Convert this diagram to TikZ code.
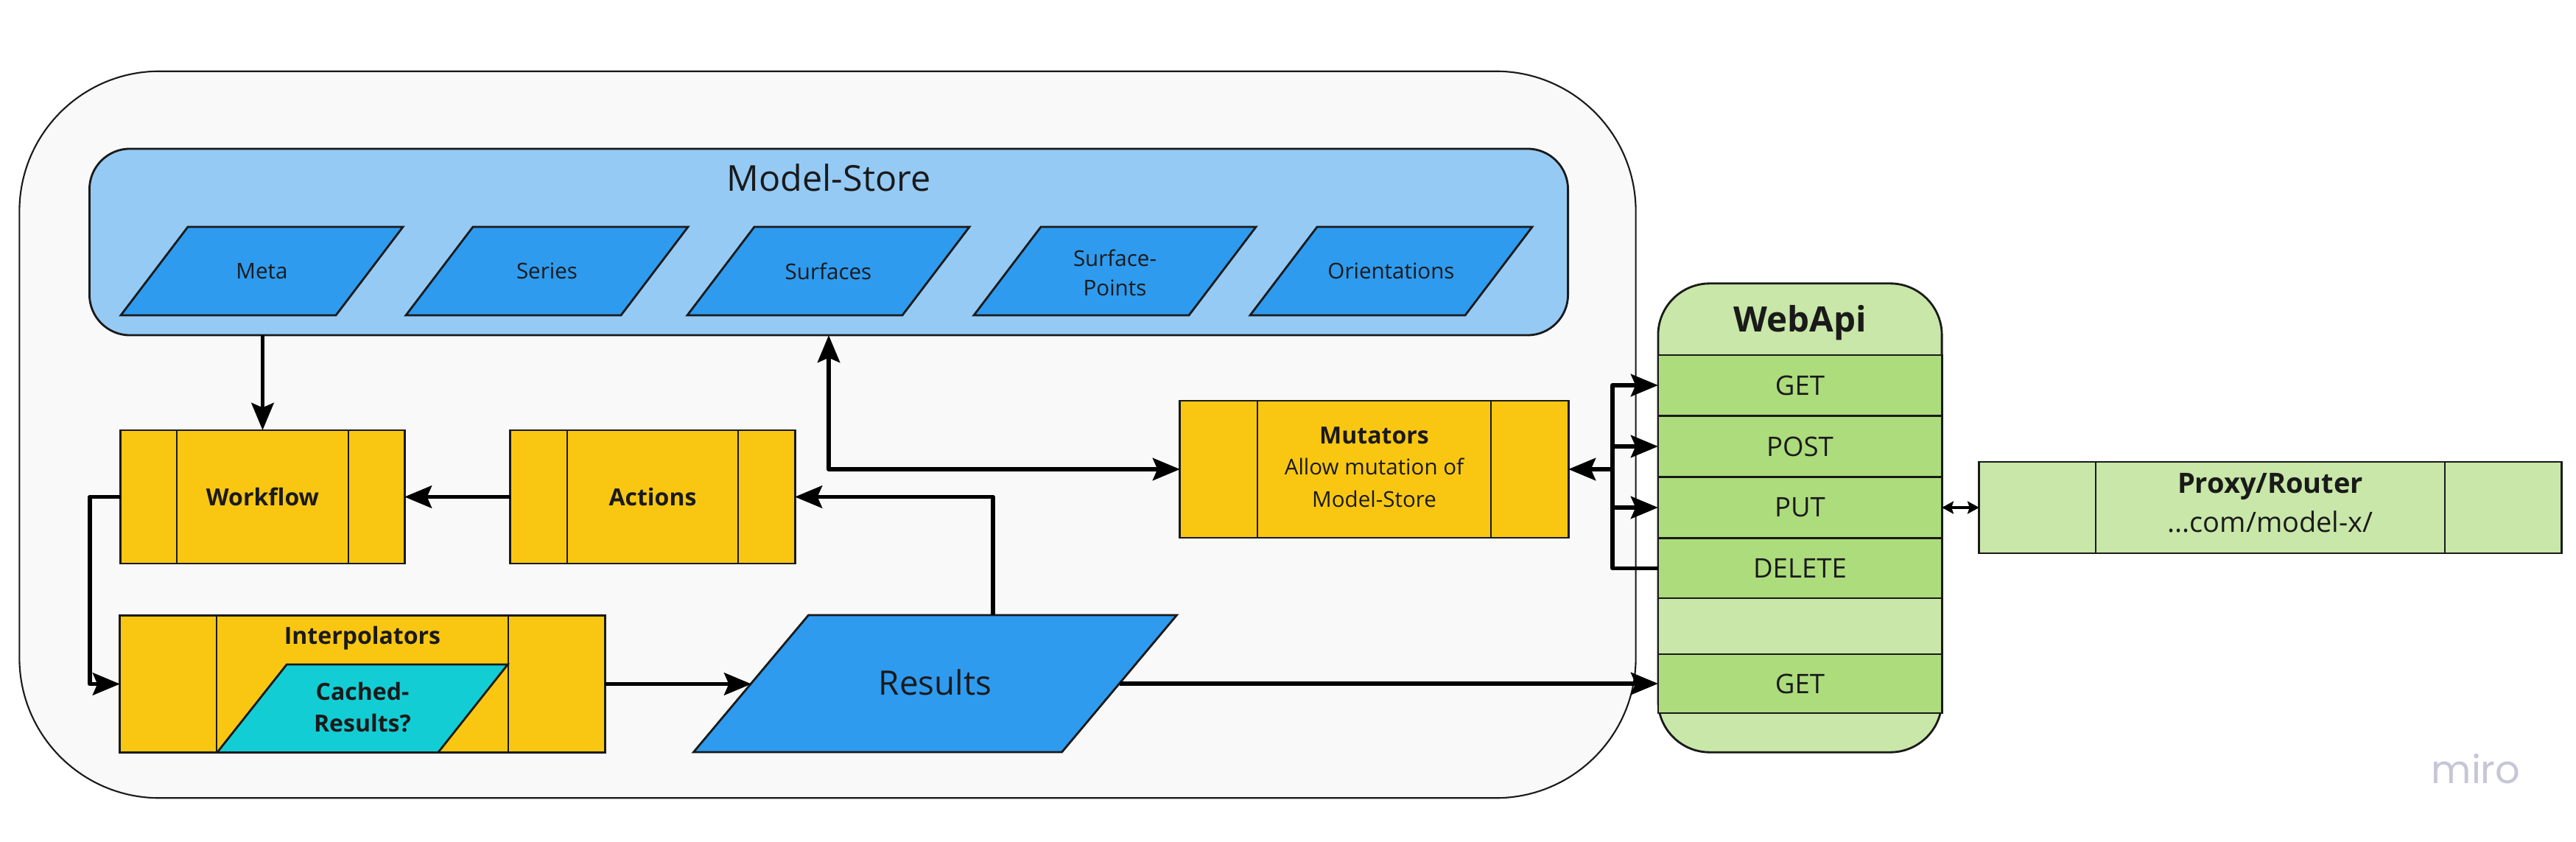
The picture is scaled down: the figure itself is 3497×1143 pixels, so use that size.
\documentclass[tikz,border=0pt]{standalone}
\usepackage{fontspec}
\setmainfont{Open Sans}
\newfontfamily\mirofont{Poppins}
\usetikzlibrary{arrows.meta,calc}
\definecolor{bgc}{HTML}{F9F9F9}
\definecolor{storebg}{HTML}{95CAF4}
\definecolor{pblue}{HTML}{2E9BEF}
\definecolor{pyellow}{HTML}{F9C712}
\definecolor{pcyan}{HTML}{13CDD4}
\definecolor{glight}{HTML}{C8E7A8}
\definecolor{gdark}{HTML}{ADDC7C}
\definecolor{edgec}{HTML}{1A1A1A}
\definecolor{mirogray}{HTML}{C6C6D6}
\newcommand\pgram[6][]{\draw[#1] ({#2-(#4+#6)/2},{#3+#5/2}) -- ({#2+(#4-#6)/2},{#3+#5/2}) -- ({#2+(#4+#6)/2},{#3-#5/2}) -- ({#2-(#4-#6)/2},{#3-#5/2}) -- cycle;}
\begin{document}
\begin{tikzpicture}[x=0.01cm,y=-0.01cm,
  every node/.style={text=edgec},
  box/.style={draw=edgec, line width=0.8pt, outer sep=0pt, inner sep=0pt},
  proc/.style={box, fill=pyellow, path picture={\draw[edgec, line width=0.7pt] ([xshift=#1]path picture bounding box.north west) -- ([xshift=#1]path picture bounding box.south west) ([xshift=-#1]path picture bounding box.north east) -- ([xshift=-#1]path picture bounding box.south east);}},
  pstyle/.style={draw=edgec, line width=0.8pt, fill=pblue, line join=miter},
  row/.style={box, fill=gdark, minimum width=3.85cm, fget},
  ftitle/.style={font=\fontsize{13.8pt}{16pt}\selectfont},
  fsmall/.style={font=\fontsize{8.4pt}{11.4pt}\selectfont},
  fbold/.style={font=\fontsize{9.1pt}{12.2pt}\selectfont\bfseries},
  fres/.style={font=\fontsize{13pt}{15pt}\selectfont},
  fweb/.style={font=\fontsize{13.5pt}{16pt}\selectfont\bfseries},
  fget/.style={font=\fontsize{10.4pt}{12pt}\selectfont},
  fproxyb/.style={font=\fontsize{10.8pt}{13pt}\selectfont\bfseries},
  fproxy/.style={font=\fontsize{10.8pt}{13pt}\selectfont},
  conn/.style={line width=1.6pt, line join=round, -{Stealth[length=10.5pt,width=8.6pt,inset=1.8pt]}},
  dconn/.style={line width=1.6pt, line join=round, {Stealth[length=10.5pt,width=8.6pt,inset=1.8pt]}-{Stealth[length=10.5pt,width=8.6pt,inset=1.8pt]}},
  sconn/.style={line width=1pt, {Stealth[length=4.5pt,width=4.8pt,inset=0.8pt]}-{Stealth[length=4.5pt,width=4.8pt,inset=0.8pt]}}
]
\fill[white] (0,0) rectangle (3497,1143);
\useasboundingbox (0,0) rectangle (3497,1143);

% container
\node[box, line width=0.6pt, fill=bgc, rounded corners=1.9cm, minimum width=21.93cm, minimum height=9.86cm] (outer) at (1123.5,590) {};

% Model-Store
\node[box, fill=storebg, rounded corners=0.55cm, minimum width=20.06cm, minimum height=2.53cm] (store) at (1125,328.5) {};
\node[ftitle, anchor=base] (storetitle) at (1125,260) {Model-Store};

\pgram[pstyle]{355.5}{368}{292}{120}{91}
\node[fsmall] (meta) at (355.5,368) {Meta};
\pgram[pstyle]{742.5}{368}{292}{120}{91}
\node[fsmall] (series) at (742.5,368) {Series};
\pgram[pstyle]{1124.5}{368}{292}{120}{91}
\node[fsmall] (surfaces) at (1124.5,368) {Surfaces};
\pgram[pstyle]{1513.5}{368}{292}{120}{91}
\node[fsmall, align=center] (spoints) at (1513.5,370) {Surface-\\Points};
\pgram[pstyle]{1888.5}{368}{292}{120}{91}
\node[fsmall] (orient) at (1888.5,368) {Orientations};

% process boxes
\node[proc=0.76cm, minimum width=3.85cm, minimum height=1.81cm, fbold] (wf) at (356.5,674.5) {Workflow};
\node[proc=0.77cm, minimum width=3.86cm, minimum height=1.81cm, fbold] (act) at (886,674.5) {Actions};

\node[proc=1.31cm, minimum width=6.58cm, minimum height=1.86cm] (interp) at (492,928.5) {};
\node[fbold, anchor=base] (interptitle) at (492,874) {Interpolators};
\pgram[draw=edgec, line width=0.8pt, fill=pcyan]{492}{961.75}{300}{119.5}{94.5}
\node[fbold, align=center] (cached) at (492,960) {Cached-\\Results?};

% Results
\pgram[pstyle]{1269.5}{928}{500}{186}{156}
\node[fres] (res) at (1269.5,926) {Results};
\coordinate (resL) at (1020,928.5);
\coordinate (resR) at (1520,928);
\coordinate (resT) at (1348,835);

% Mutators
\node[proc=1.05cm, minimum width=5.27cm, minimum height=1.86cm] (mut) at (1865.5,637) {};
\node[fbold, anchor=base] (muttitle) at (1865.5,602) {Mutators};
\node[fsmall, anchor=base] (mut1) at (1865.5,644) {Allow mutation of};
\node[fsmall, anchor=base] (mut2) at (1865.5,688) {Model-Store};

% WebApi
\node[box, fill=glight, rounded corners=0.7cm, minimum width=3.85cm, minimum height=6.36cm] (webapi) at (2443.5,703) {};
\node[fweb, anchor=base] (webtitle) at (2443.5,450) {WebApi};
\node[row, minimum height=0.82cm] (get) at (2443.5,523) {GET};
\node[row, minimum height=0.82cm] (post) at (2443.5,606) {POST};
\node[row, minimum height=0.82cm] (put) at (2443.5,689) {PUT};
\node[row, minimum height=0.81cm] (del) at (2443.5,771.5) {DELETE};
\node[row, fill=glight, minimum height=0.76cm] (gap) at (2443.5,850) {};
\node[row, minimum height=0.80cm] (get2) at (2443.5,928) {GET};

% Proxy
\node[proc=1.58cm, fill=glight, minimum width=7.9cm, minimum height=1.24cm] (proxy) at (3082,689) {};
\node[fproxyb, anchor=base] (proxyt) at (3082,669) {Proxy/Router};
\node[fproxy, anchor=base] (proxyu) at (3082,722) {...com/model-x/};

% miro
\node[font=\mirofont\fontsize{15pt}{17pt}\selectfont, text=mirogray, anchor=base] (miro) at (3361,1063) {miro};

% connectors
\draw[conn] (store.south -| wf.north) -- (wf.north);
\draw[conn] (act.west) -- (wf.east);
\draw[conn] (resT) |- (act.east);
\draw[conn] (wf.west) -- ++(-42,0) |- (interp.west);
\draw[conn] (interp.east) -- (resL);
\draw[conn] (resR) -- (get2.west);
\draw[dconn] (store.south) |- (mut.west);

\coordinate (bus) at (2189,637);
\draw[conn] (del.west) -| (bus) |- (get.west);
\draw[conn] (bus |- post.west) -- (post.west);
\draw[conn] (bus |- put.west) -- (put.west);
\draw[conn] (bus) -- (mut.east);

\draw[sconn] (put.east) -- (proxy.west);
\end{tikzpicture}
\end{document}
